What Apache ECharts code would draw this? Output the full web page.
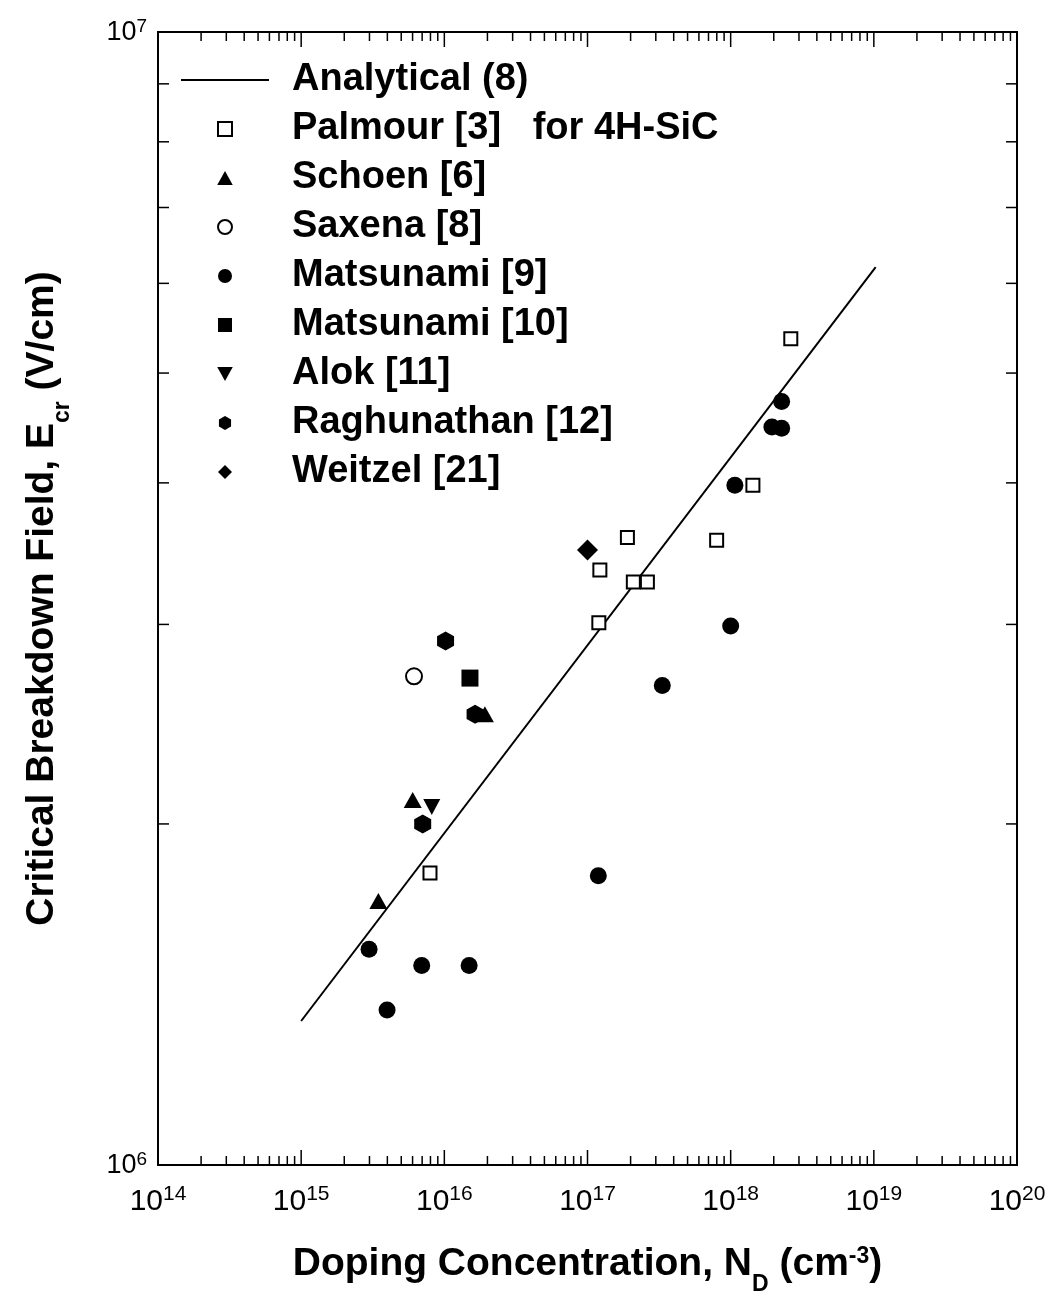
<!DOCTYPE html>
<html><head><meta charset="utf-8">
<script src="https://cdn.jsdelivr.net/npm/echarts@6/dist/echarts.min.js"></script>
<style>html,body{margin:0;padding:0;background:#fff}#c{width:1048px;height:1303px}</style>
</head><body><div id="c"></div>
<script>
// ---- data: [doping N_D (cm^-3), E_cr (V/cm)] ----
const analytical = [[1.0e15, 1.34e6], [1.03e19, 6.2e6]];
const palmour = [[2.63e18,5.36e6],[1.43e18,3.98e6],[7.98e17,3.56e6],[1.90e17,3.58e6],[1.22e17,3.35e6],[2.09e17,3.27e6],[2.62e17,3.27e6],[1.20e17,3.01e6],[7.94e15,1.81e6]];
const schoen = [[3.46e15,1.71e6],[6.01e15,2.10e6],[1.92e16,2.50e6]];
const saxena = [[6.14e15,2.70e6]];
const matsunami9 = [[2.98e15,1.55e6],[6.95e15,1.50e6],[1.49e16,1.50e6],[3.98e15,1.37e6],[1.19e17,1.80e6],[3.33e17,2.65e6],[1.00e18,2.99e6],[1.07e18,3.98e6],[1.94e18,4.48e6],[2.27e18,4.47e6],[2.27e18,4.72e6]];
const matsunami10 = [[1.51e16,2.69e6]];
const alok = [[8.17e15,2.07e6]];
const raghunathan = [[1.02e16,2.90e6],[1.64e16,2.50e6],[7.06e15,2.00e6]];
const weitzel = [[1.0e17,3.49e6]];

// axis decades and minor-tick multipliers
const xDecades = [1e14,1e15,1e16,1e17,1e18,1e19,1e20];
const yDecades = [1e6,1e7];
const minorMultipliers = [2,3,4,5,6,7,8,9];

const FONT = 'Liberation Sans, Arial, Helvetica, sans-serif';
const chart = echarts.init(document.getElementById('c'), null, {renderer:'canvas'});

function renderTicks(params, api) {
  const children = [];
  const xMin = xDecades[0], xMax = xDecades[xDecades.length-1];
  const yMin = yDecades[0], yMax = yDecades[yDecades.length-1];
  const push = (x1,y1,x2,y2) => children.push({type:'line', shape:{x1,y1,x2,y2}, style:{stroke:'#000', lineWidth:1.5}});
  for (let i = 0; i < xDecades.length; i++) {
    const d = xDecades[i];
    const b = api.coord([d, yMin]), t = api.coord([d, yMax]);
    push(b[0], b[1], b[0], b[1]-15); push(t[0], t[1], t[0], t[1]+15);
    if (i < xDecades.length-1) {
      for (const m of minorMultipliers) {
        const v = d*m;
        const b2 = api.coord([v, yMin]), t2 = api.coord([v, yMax]);
        push(b2[0], b2[1], b2[0], b2[1]-9); push(t2[0], t2[1], t2[0], t2[1]+9);
      }
    }
  }
  for (let i = 0; i < yDecades.length-1; i++) {
    for (const m of minorMultipliers) {
      const v = yDecades[i]*m;
      const l = api.coord([xMin, v]), r = api.coord([xMax, v]);
      push(l[0], l[1], l[0]+11, l[1]); push(r[0], r[1], r[0]-11, r[1]);
    }
  }
  return {type:'group', children};
}

const rectPath = 'path://M0,0 L1,0 L1,1 L0,1 Z';
const upTriangle = 'path://M1,0 L2,1.8 L0,1.8 Z';
const downTriangle = 'path://M0,0 L2,0 L1,1.8 Z';
const diamondPath = 'path://M1,0 L2,1 L1,2 L0,1 Z';
const hexagon = 'path://M0.5,0 L0.933,0.25 L0.933,0.75 L0.5,1 L0.067,0.75 L0.067,0.25 Z';
const legendLine = 'path://M0,0 L88,0 L88,2 L0,2 Z';

const titleRich = (fs) => ({
  t:{fontSize:fs, fontWeight:'bold', fontFamily:FONT, color:'#000', verticalAlign:'bottom', padding:[0,0,12,0]},
  sub:{fontSize:23, fontWeight:'bold', fontFamily:FONT, color:'#000', verticalAlign:'bottom'},
  sup:{fontSize:23, fontWeight:'bold', fontFamily:FONT, color:'#000', verticalAlign:'top'}
});

const option = {
  backgroundColor:'#fff',
  animation:false,
  grid:{left:158, right:31, top:32, bottom:138, show:true, borderColor:'#000', borderWidth:2, backgroundColor:'transparent', outerBoundsMode:'none'},
  legend:{
    orient:'vertical', left:181, top:61, padding:0, itemWidth:88, itemHeight:14, itemGap:11,
    selectedMode:false, symbolKeepAspect:true,
    textStyle:{fontSize:38, fontWeight:'bold', fontFamily:FONT, color:'#000', padding:[0,0,0,18]},
    formatter: name => name === 'Palmour [3]' ? name + '   for 4H-SiC' : name,
    data:[
      {name:'Analytical (8)', icon:legendLine},
      {name:'Palmour [3]', icon:rectPath},
      {name:'Schoen [6]', icon:upTriangle},
      {name:'Saxena [8]', icon:'circle'},
      {name:'Matsunami [9]', icon:'circle'},
      {name:'Matsunami [10]', icon:rectPath},
      {name:'Alok [11]', icon:downTriangle},
      {name:'Raghunathan [12]', icon:hexagon},
      {name:'Weitzel [21]', icon:diamondPath}
    ]
  },
  xAxis:{
    type:'log', logBase:10, min:1e14, max:1e20,
    splitLine:{show:false}, axisTick:{show:false}, axisLine:{show:false},
    axisLabel:{
      margin:19,
      formatter: v => '{b|10}{s|' + Math.round(Math.log10(v)) + '}',
      rich:{
        b:{fontSize:30, fontFamily:FONT, color:'#000', verticalAlign:'bottom'},
        s:{fontSize:21, fontFamily:FONT, color:'#000', verticalAlign:'bottom', padding:[0,0,12,0]}
      }
    },
    name:'{t|Doping Concentration, N}{sub|D}{t| (cm}{sup|-3}{t|)}',
    nameLocation:'middle', nameGap:80,
    nameTextStyle:{fontSize:39, fontWeight:'bold', fontFamily:FONT, color:'#000', rich:titleRich(39)}
  },
  yAxis:{
    type:'log', logBase:10, min:1e6, max:1e7,
    splitLine:{show:false}, axisTick:{show:false}, axisLine:{show:false},
    axisLabel:{
      margin:11,
      formatter: v => '{b|10}{s|' + Math.round(Math.log10(v)) + '}',
      rich:{
        b:{fontSize:27, fontFamily:FONT, color:'#000', verticalAlign:'bottom'},
        s:{fontSize:19, fontFamily:FONT, color:'#000', verticalAlign:'bottom', padding:[0,0,10,0]}
      }
    },
    name:'{t|Critical Breakdown Field, E}{sub|cr}{t| (V/cm)}',
    nameLocation:'middle', nameGap:84,
    nameTextStyle:{fontSize:39, fontWeight:'bold', fontFamily:FONT, color:'#000', rich:titleRich(39)}
  },
  series:[
    {type:'custom', silent:true, renderItem:renderTicks, data:[[1e15,2e6]], clip:false, z:5},
    {name:'Analytical (8)', type:'line', data:analytical, symbol:'none', showSymbol:false,
     lineStyle:{color:'#000', width:2}, itemStyle:{color:'#000'}, z:3},
    {name:'Palmour [3]', type:'scatter', data:palmour, symbol:rectPath, symbolSize:13,
     itemStyle:{color:'#fff', borderColor:'#000', borderWidth:2, opacity:1}, z:4},
    {name:'Schoen [6]', type:'scatter', data:schoen, symbol:upTriangle, symbolSize:[18,16], itemStyle:{color:'#000', opacity:1}, z:4},
    {name:'Saxena [8]', type:'scatter', data:saxena, symbol:'circle', symbolSize:16,
     itemStyle:{color:'#fff', borderColor:'#000', borderWidth:2, opacity:1}, z:4},
    {name:'Matsunami [9]', type:'scatter', data:matsunami9, symbol:'circle', symbolSize:17, itemStyle:{color:'#000', opacity:1}, z:4},
    {name:'Matsunami [10]', type:'scatter', data:matsunami10, symbol:rectPath, symbolSize:17, itemStyle:{color:'#000', opacity:1}, z:4},
    {name:'Alok [11]', type:'scatter', data:alok, symbol:downTriangle, symbolSize:[17,16], itemStyle:{color:'#000', opacity:1}, z:4},
    {name:'Raghunathan [12]', type:'scatter', data:raghunathan, symbol:hexagon, symbolSize:[17,19], itemStyle:{color:'#000', opacity:1}, z:4},
    {name:'Weitzel [21]', type:'scatter', data:weitzel, symbol:diamondPath, symbolSize:21, itemStyle:{color:'#000', opacity:1}, z:4}
  ]
};
chart.setOption(option);
</script>
</body></html>
